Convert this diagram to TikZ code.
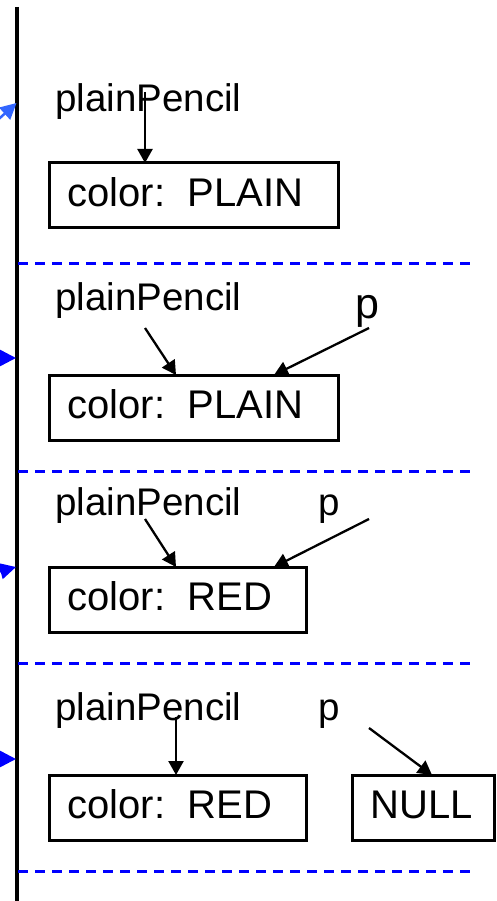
\documentclass[tikz,border=0pt]{standalone}
\usepackage{fontspec}
\setmainfont{Liberation Sans}
\usetikzlibrary{arrows.meta,calc}
\definecolor{lightarrow}{RGB}{51,102,255}
\begin{document}
\begin{tikzpicture}[x=1pt,y=-1pt,
  lbl/.style={anchor=base west,inner sep=0pt,font=\fontsize{38.5pt}{46pt}\selectfont},
  membox/.style={draw,line width=3pt,anchor=north west,outer sep=0pt,inner xsep=18.5pt,inner ysep=0pt,
    minimum height=65pt,text height=30pt,text depth=7.6pt,font=\fontsize{40pt}{48pt}\selectfont},
  ptr/.style={line width=2.3pt,-{Triangle[length=14pt,width=15pt]}},
  sep/.style={blue,line width=3pt,dash pattern=on 10pt off 7pt},
  evt/.style={blue,line width=2.5pt,-{Triangle[length=16pt,width=16pt]}},
]
\clip (0,0) rectangle (496,901);
% timeline
\coordinate (tltop) at (17,7);
\coordinate (tlbot) at (17,905);
\draw[line width=3.5pt] (tltop) -- (tlbot);
% event arrows from the left
\coordinate (e1s) at (-30,145);
\coordinate (e1t) at (16.5,103);
\draw[evt,lightarrow] (e1s) -- (e1t);
\coordinate (e2s) at (-40,358);
\coordinate (e2t) at (16,358);
\draw[evt] (e2s) -- (e2t);
\coordinate (e3s) at (-40,582);
\coordinate (e3t) at (16,567);
\draw[evt] (e3s) -- (e3t);
\coordinate (e4s) at (-40,759);
\coordinate (e4t) at (16,759);
\draw[evt] (e4s) -- (e4t);
% separators
\draw[sep] (18,263) -- (477,263);
\draw[sep] (18,471) -- (477,471);
\draw[sep] (18,663) -- (477,663);
\draw[sep] (18,871) -- (477,871);
% panel 1
\node[lbl] (pp1) at (55,112) {plainPencil};
\node[membox] (b1) at (49,163) {\makebox[252pt][l]{color:~~PLAIN}};
\coordinate (a1s) at (145,92);
\draw[ptr] (a1s) -- ($(b1.north west)+(96,0)$);
% panel 2
\node[lbl] (pp2) at (55,310) {plainPencil};
\node[lbl,font=\fontsize{43pt}{50pt}\selectfont] (p2) at (355,318) {p};
\node[membox] (b2) at (49,375) {\makebox[252pt][l]{color:~~PLAIN}};
\coordinate (a2s) at (145,328);
\coordinate (a2p) at (369,328);
\draw[ptr] (a2s) -- ($(b2.north west)+(127,0)$);
\draw[ptr] (a2p) -- ($(b2.north west)+(225,0)$);
% panel 3
\node[lbl] (pp3) at (55,515) {plainPencil};
\node[lbl] (p3) at (318.5,515) {p};
\node[membox] (b3) at (49,567) {\makebox[220pt][l]{color:~~RED}};
\coordinate (a3s) at (145,519);
\coordinate (a3p) at (369,519);
\draw[ptr] (a3s) -- ($(b3.north west)+(127,0)$);
\draw[ptr] (a3p) -- ($(b3.north west)+(225,0)$);
% panel 4
\node[lbl] (pp4) at (55,720) {plainPencil};
\node[lbl] (p4) at (318.5,720) {p};
\node[membox] (b4) at (49,775) {\makebox[220pt][l]{color:~~RED}};
\node[membox] (nul) at (352,775) {\makebox[105pt][l]{NULL}};
\coordinate (a4s) at (176,717);
\coordinate (a4p) at (369,728);
\draw[ptr] (a4s) -- ($(b4.north west)+(127,0)$);
\draw[ptr] (a4p) -- ($(nul.north west)+(80,0)$);
\end{tikzpicture}
\end{document}
